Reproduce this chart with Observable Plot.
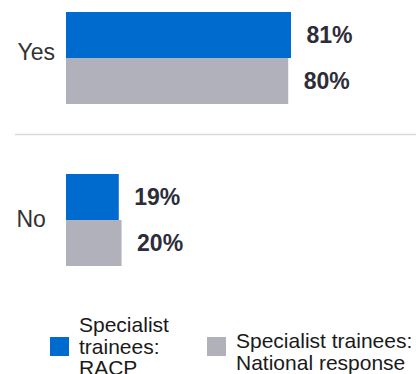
<!DOCTYPE html>
<html><head><meta charset="utf-8">
<script src="https://cdn.jsdelivr.net/npm/d3@7"></script>
<script src="https://cdn.jsdelivr.net/npm/@observablehq/plot@0.6"></script>
<style>
body{margin:0;background:#fff;font-family:"Liberation Sans",Arial,sans-serif;}
#wrap{position:relative;width:416px;height:374px;overflow:hidden;}
#chart svg{display:block;}
.sw{position:absolute;width:19px;height:19px;}
.lt{position:absolute;font-size:21px;line-height:21.5px;color:#1a1a1a;}
</style></head><body>
<div id="wrap"><div id="chart"></div><div id="legend"></div></div>
<script>
const categories = ["Yes", "No"];
const seriesKeys = ["RACP", "National"];
const seriesNames = ["Specialist trainees: RACP", "Specialist trainees: National response"];
const racp = [81, 19];
const national = [80, 20];
const colors = ["#006BCE", "#B1B1BC"];

const data = categories.flatMap((c, i) => [
  {category: c, series: "RACP", value: racp[i]},
  {category: c, series: "National", value: national[i]}
]);

const chart = Plot.plot({
  width: 416, height: 290,
  marginTop: 11, marginBottom: 23, marginLeft: 15, marginRight: 0,
  style: {fontFamily: "'Liberation Sans', Arial, sans-serif", background: "transparent"},
  x: {domain: [-18.36, 126], axis: null},
  y: {domain: seriesKeys, padding: 0, axis: null},
  fy: {domain: categories, paddingInner: 0.4294, paddingOuter: 0, axis: null},
  color: {domain: seriesKeys, range: colors},
  marks: [
    Plot.ruleY([{category: "Yes"}], {fy: "category", y: () => "National", dy: 53, stroke: "#dadada", strokeWidth: 1.5}),
    Plot.barX(data, {fy: "category", y: "series", x1: 0, x2: "value", fill: "series"}),
    Plot.text(data, {fy: "category", y: "series", x: "value", text: d => d.value + "%", textAnchor: "start", dx: 15, fontSize: 23, fontWeight: "bold", fill: "#2d2d37"}),
    Plot.text(categories.filter(c => c === "Yes"), {fy: d => d, frameAnchor: "left", dx: 2, dy: -6, text: d => d, textAnchor: "start", fontSize: 23, fill: "#333"}),
    Plot.text(categories.filter(c => c === "No"), {fy: d => d, frameAnchor: "left", dx: 1, dy: -1, text: d => d, textAnchor: "start", fontSize: 23, fill: "#333"})
  ]
});
document.getElementById("chart").appendChild(chart);

const legendPos = [
  {sx: 50, sy: 337, tx: 79, ty: 314, w: 95},
  {sx: 207, sy: 337, tx: 236, ty: 330, w: 180}
];
const legend = d3.select("#legend");
seriesNames.forEach((name, i) => {
  const p = legendPos[i];
  legend.append("div").attr("class", "sw")
    .style("left", p.sx + "px").style("top", p.sy + "px").style("background", colors[i]);
  legend.append("div").attr("class", "lt")
    .style("left", p.tx + "px").style("top", p.ty + "px").style("width", p.w + "px").text(name);
});
</script>
</body></html>
